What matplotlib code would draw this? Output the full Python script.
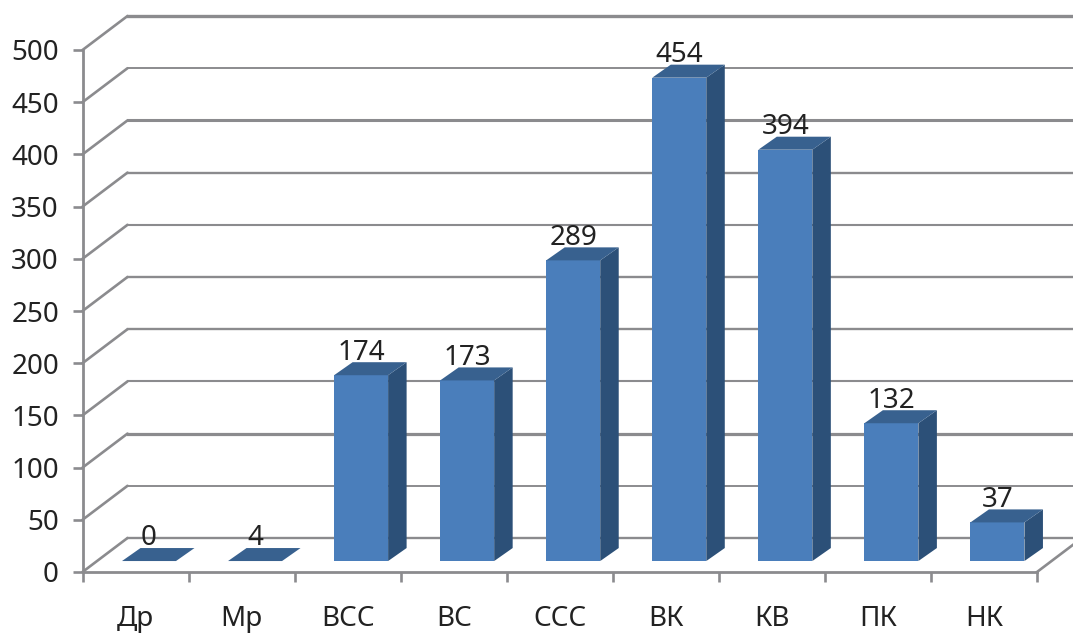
import numpy as np
import matplotlib
matplotlib.use("Agg")
import matplotlib.pyplot as plt

categories = ["Др", "Мр", "ВСС", "ВС", "ССС", "ВК", "КВ", "ПК", "НК"]
bar_heights = [0, 0, 178, 173, 288, 463, 394, 132, 37]
value_labels = ["0", "4", "174", "173", "289", "454", "394", "132", "37"]
y_ticks = [0, 50, 100, 150, 200, 250, 300, 350, 400, 450, 500]
back_widths = [1.7, 1.4, 2.3, 1.5, 1.7, 1.7, 1.5, 1.7, 2.2, 1.4, 2.4]

W, H = 1073, 633
PX_X = 106.05
PX_Y = 1.044
GRAY = "#8b8b8e"
FONT = "Noto Sans"
TEXT = "#222222"

fig = plt.figure(figsize=(W / 100, H / 100), dpi=100)
ax = fig.add_axes([82.5 / W, (H - 572) / H, 954.5 / W, 522 / H])
ax.set_xlim(0, 9)
ax.set_ylim(0, 500)

wall_dx, wall_dy = 45 / PX_X, 34 / PX_Y
bar_dx, bar_dy = 18.5 / PX_X, 13 / PX_Y
bar_w = 54 / PX_X
bar_off = 0.127
floor = 10.5

# walls: diagonal and back line for each gridline
for v, lw in zip(y_ticks, back_widths):
    ax.plot([0, wall_dx], [v, v + wall_dy], color=GRAY, lw=1.9,
            clip_on=False, zorder=1, solid_capstyle="round")
    ax.plot([wall_dx, 9 + wall_dx], [v + wall_dy, v + wall_dy], color=GRAY, lw=lw,
            clip_on=False, zorder=1)
ax.plot([9, 9 + wall_dx], [0, wall_dy], color=GRAY, lw=1.9, clip_on=False, zorder=1)

x = np.arange(len(categories)) + 0.5 + bar_off
heights = np.array(bar_heights, dtype=float)
ax.bar(x, heights, width=bar_w, bottom=floor, color="#4a7ebb", linewidth=0, zorder=3)

for xc, h, lab in zip(x, heights, value_labels):
    l, r = xc - bar_w / 2, xc + bar_w / 2
    b, t = floor, floor + h
    ax.fill([r, r + bar_dx, r + bar_dx, r], [b, b + bar_dy, t + bar_dy, t],
            color="#2c5078", lw=0, zorder=3, clip_on=False)
    ax.fill([l, r, r + bar_dx, l + bar_dx], [t, t, t + bar_dy, t + bar_dy],
            color="#38618f", lw=0, zorder=3, clip_on=False)
    ax.annotate(lab, (xc, t + bar_dy), xytext=(0, -3.2), textcoords="offset points",
                ha="center", va="bottom", fontsize=20, family=FONT, color=TEXT,
                zorder=5, annotation_clip=False)

for s in ("top", "right"):
    ax.spines[s].set_visible(False)
for s in ("left", "bottom"):
    ax.spines[s].set_color(GRAY)
    ax.spines[s].set_linewidth(2.0)
    ax.spines[s].set_zorder(2)

ax.set_yticks(y_ticks)
ax.set_yticklabels([str(v) for v in y_ticks], fontsize=20, family=FONT, color=TEXT)
ax.tick_params(axis="y", length=7, width=1.9, color=GRAY, pad=10)

ax.set_xticks(np.arange(len(categories) + 1))
ax.set_xticklabels([])
ax.tick_params(axis="x", which="major", length=7, width=1.9, color=GRAY)
ax.set_xticks(np.arange(len(categories)) + 0.5, minor=True)
ax.set_xticklabels(categories, minor=True, fontsize=20, family=FONT, color=TEXT)
ax.tick_params(axis="x", which="minor", length=0, pad=24)

fig.savefig("out.png", dpi=100)
